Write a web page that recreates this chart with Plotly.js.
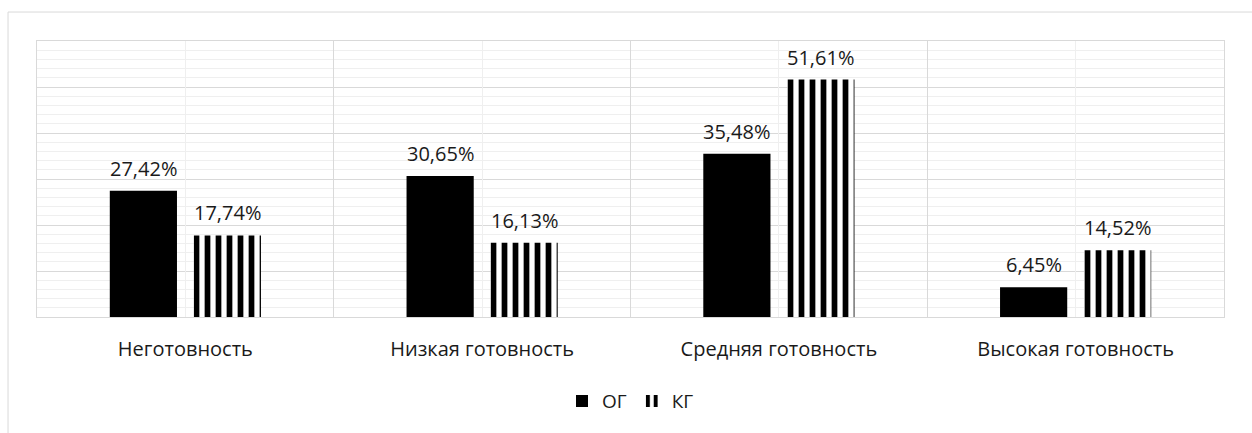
<!DOCTYPE html>
<html>
<head>
<meta charset="utf-8">
<script src="https://cdn.plot.ly/plotly-3.0.1.min.js"></script>
<style>html,body{margin:0;padding:0;background:#fff;}#chart{width:1252px;height:433px;}</style>
</head>
<body>
<div id="chart"></div>
<script>
const categories = ["Неготовность", "Низкая готовность", "Средняя готовность", "Высокая готовность"];
const seriesNames = ["ОГ", "КГ"];
const ogValues = [27.42, 30.65, 35.48, 6.45];
const kgValues = [17.74, 16.13, 51.61, 14.52];

const FONT = "Open Sans, sans-serif";
const fmt = v => v.toFixed(2).replace('.', ',') + '%';

const traces = [
  {
    type: 'bar', name: seriesNames[0], x: categories, y: ogValues,
    marker: {color: '#000000', line: {width: 0}},
    hoverinfo: 'skip'
  },
  {
    type: 'bar', name: seriesNames[1], x: categories, y: kgValues,
    marker: {color: '#ffffff', line: {width: 0},
      pattern: {shape: '|', fgcolor: '#000000', bgcolor: '#ffffff', size: 11, solidity: 0.52, fillmode: 'replace'}},
    hoverinfo: 'skip'
  }
];

const annotations = [];
[[ogValues, -42], [kgValues, 42]].forEach(([vals, shift]) => {
  vals.forEach((v, i) => {
    annotations.push({
      x: categories[i], y: v, xref: 'x', yref: 'y', text: fmt(v),
      showarrow: false, xanchor: 'center', yanchor: 'bottom', xshift: shift, yshift: 7,
      font: {family: FONT, size: 20, color: '#1a1a1a'}
    });
  });
});

const layout = {
  width: 1252, height: 433,
  margin: {l: 37, r: 28, t: 41, b: 116, pad: 0},
  paper_bgcolor: '#ffffff', plot_bgcolor: '#ffffff',
  barmode: 'group', bargap: 0.434, bargroupgap: 0.2,
  separators: ', ',
  showlegend: true,
  legend: {orientation: 'h', x: 0.5, xanchor: 'center', y: -0.305, yanchor: 'middle',
    font: {family: FONT, size: 19, color: '#1a1a1a'}, itemwidth: 30, tracegroupgap: 0},
  xaxis: {
    type: 'category', tickson: 'boundaries', ticks: '', showgrid: true, gridcolor: '#d9d9d9', gridwidth: 1,
    showline: true, linecolor: '#d9d9d9', linewidth: 1, mirror: true,
    tickfont: {family: FONT, size: 20, color: '#1a1a1a'}, ticklabelstandoff: 14, fixedrange: true
  },
  xaxis2: {
    overlaying: 'x', type: 'linear', range: [-0.5, 3.5], tick0: 0, dtick: 1,
    showgrid: true, gridcolor: '#efefef', gridwidth: 1, showticklabels: false, ticks: '',
    zeroline: false, showline: false, fixedrange: true
  },
  yaxis: {
    range: [0, 60], dtick: 10, showgrid: true, gridcolor: '#d9d9d9', gridwidth: 1,
    minor: {dtick: 2, showgrid: true, gridcolor: '#efefef', gridwidth: 1},
    showticklabels: false, ticks: '', zeroline: false,
    showline: true, linecolor: '#d9d9d9', linewidth: 1, mirror: true, fixedrange: true
  },
  annotations: annotations,
  shapes: [{
    type: 'rect', xref: 'paper', yref: 'paper',
    x0: -0.0244, x1: 1.2, y0: -0.8, y1: 1.105,
    line: {color: '#d9d9d9', width: 1}, fillcolor: 'rgba(0,0,0,0)', layer: 'below'
  }]
};

traces.push({type: 'scatter', x: [], y: [], xaxis: 'x2', yaxis: 'y', showlegend: false, hoverinfo: 'skip'});

Plotly.newPlot('chart', traces, layout, {displayModeBar: false, staticPlot: true});
</script>
</body>
</html>
